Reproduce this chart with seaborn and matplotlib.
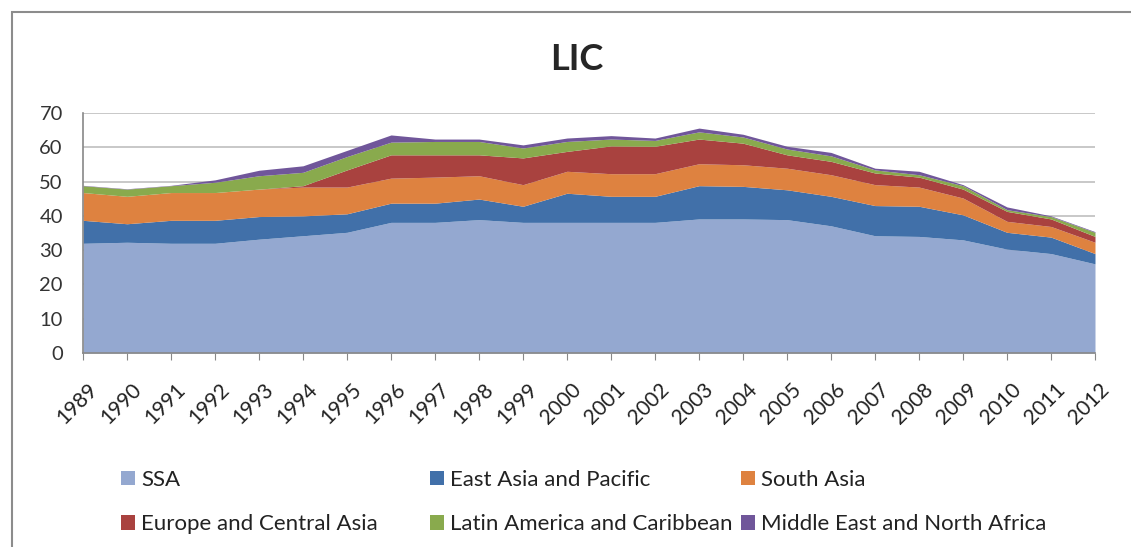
import matplotlib
matplotlib.use('Agg')
import matplotlib.pyplot as plt
import matplotlib.transforms as mtrans
import seaborn as sns
import numpy as np
from matplotlib.patches import Rectangle, Patch

# data (share, stacked)
years = list(range(1989, 2013))
ssa = [32, 32.3, 32, 32, 33.2, 34.2, 35.2, 38.1, 38.1, 38.9, 38.1, 38.1,
       38.1, 38.1, 39.1, 39.1, 38.9, 37.1, 34.2, 34, 33, 30.3, 29, 26]
eap = [6.7, 5.4, 6.7, 6.7, 6.6, 5.8, 5.4, 5.6, 5.6, 6.0, 4.7, 8.5,
       7.6, 7.6, 9.7, 9.5, 8.7, 8.6, 8.8, 8.8, 7.3, 4.9, 4.8, 3.0]
sa = [8.1, 8.0, 8.1, 8.1, 8.0, 8.4, 7.8, 7.3, 7.6, 6.8, 6.3, 6.4,
      6.6, 6.6, 6.4, 6.3, 6.3, 6.3, 6.1, 5.6, 4.9, 3.2, 3.1, 3.3]
eca = [0, 0, 0, 0, 0, 0.4, 5.0, 6.8, 6.5, 6.1, 7.8, 5.8,
       8.1, 8.0, 7.2, 6.3, 3.9, 3.9, 3.4, 2.9, 2.6, 2.9, 2.2, 1.7]
lac = [2.0, 2.1, 2.0, 3.0, 3.9, 3.9, 3.9, 3.7, 3.9, 3.9, 2.9, 2.9,
       2.0, 1.7, 2.1, 1.8, 1.7, 1.6, 0.9, 0.7, 1.0, 0.5, 0.7, 1.2]
mena = [0.1, 0.1, 0.1, 0.7, 1.6, 1.9, 1.8, 2.1, 0.7, 0.7, 0.9, 1.0,
        1.0, 0.7, 1.1, 0.8, 0.8, 1.0, 0.5, 1.0, 0.3, 0.8, 0.2, 0.2]

labels = ['SSA', 'East Asia and Pacific', 'South Asia',
          'Europe and Central Asia', 'Latin America and Caribbean',
          'Middle East and North Africa']
colors = ['#94A8D0', '#4170A9', '#DE8240', '#A9423F', '#89AA4D', '#70569A']

sns.set_style('white')
plt.rcParams['font.family'] = ['Lato', 'DejaVu Sans']

fig = plt.figure(figsize=(11.31, 5.47), dpi=100)
ax = fig.add_axes([83 / 1131, 194 / 547, 1012 / 1131, 240 / 547])

ax.stackplot(years, ssa, eap, sa, eca, lac, mena, colors=colors,
             labels=labels, linewidth=0)

ax.set_xlim(1989, 2012)
ax.set_ylim(0, 70)
ax.set_yticks(range(0, 71, 10))
ax.yaxis.grid(True, color='#BFBFBF', linewidth=1.2)
ax.set_axisbelow(True)
ax.set_xticks(years)
ax.set_xticklabels([str(y) for y in years], rotation=45, ha='right',
                   va='top', rotation_mode='anchor', fontsize=15,
                   color='#222222')
ax.tick_params(axis='y', labelsize=14.5, length=6.5, color='#888888', pad=8,
               labelcolor='#333333')
ax.tick_params(axis='x', length=5, color='#888888', direction='out', pad=14,
               bottom=True)
shift = mtrans.ScaledTranslation(4 / 100, 0, fig.dpi_scale_trans)
for lab in ax.get_xticklabels():
    lab.set_transform(lab.get_transform() + shift)
for s in ['top', 'right']:
    ax.spines[s].set_visible(False)
for s in ['left', 'bottom']:
    ax.spines[s].set_color('#888888')
    ax.spines[s].set_linewidth(1.2)

fig.text(577 / 1131, 0.892, 'LIC', ha='center', va='center', fontsize=26,
         fontweight='bold')

# legend, laid out in three columns like the original
handles = [Patch(facecolor=c, edgecolor='none') for c in colors]
col_x = [121 / 1131, 430 / 1131, 741 / 1131]
for i, x in enumerate(col_x):
    fig.legend([handles[i], handles[i + 3]], [labels[i], labels[i + 3]],
               loc='upper left', bbox_to_anchor=(x, 77 / 547),
               frameon=False, fontsize=16, handlelength=0.62,
               handleheight=0.62, handletextpad=0.3, labelspacing=1.1,
               borderaxespad=0, borderpad=0, labelcolor='#222222')

# outer frame of the figure box
fig.patches.append(Rectangle((12 / 1131, -0.1), 1.2, (547 - 12) / 547 + 0.1,
                             transform=fig.transFigure, fill=False,
                             edgecolor='#8C8C8C', linewidth=1.5))

fig.savefig('out.png', dpi=100)
